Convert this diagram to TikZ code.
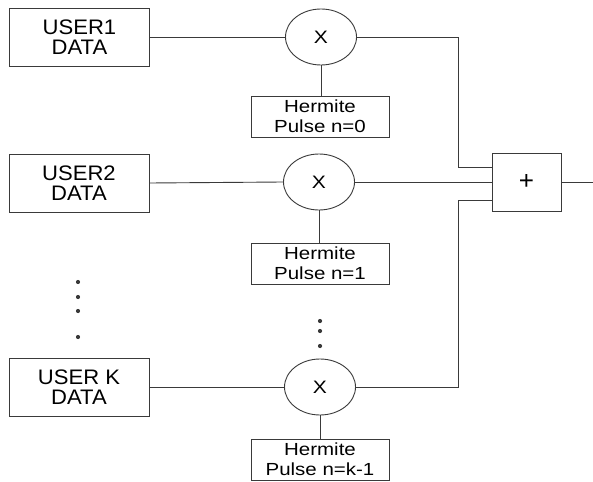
\documentclass[tikz,border=0pt]{standalone}
\usepackage{fontspec}
\setmainfont{Liberation Sans}
\newfontfamily\userfont[FakeStretch=1.05]{Liberation Sans}
\newfontfamily\hermfont[FakeStretch=1.17]{Liberation Sans}
\usetikzlibrary{shapes.geometric}
\definecolor{ln}{HTML}{3A3A3A}
\begin{document}
\begin{tikzpicture}[x=1pt,y=-1pt,
  line width=0.9pt,
  userbox/.style={draw=ln,rectangle,minimum width=140pt,minimum height=58pt,inner sep=0pt,align=center,font=\userfont\fontsize{21}{19.5}\selectfont},
  hermbox/.style={draw=ln,rectangle,minimum width=138pt,minimum height=41pt,inner sep=0pt,align=center,font=\hermfont\fontsize{17.5}{19.6}\selectfont},
  mult/.style={draw=ln,ellipse,minimum width=71pt,minimum height=56pt,inner sep=0pt,font=\hermfont\fontsize{18}{18}\selectfont},
  sumbox/.style={draw=ln,rectangle,minimum width=69pt,minimum height=58pt,inner sep=0pt,font=\fontsize{26}{26}\selectfont},
  wire/.style={draw=ln,line width=0.9pt},
  dotm/.style={fill=ln,circle,inner sep=0pt,minimum size=4.2pt}]
\useasboundingbox (0,0) rectangle (593,481);
% user boxes
\node[userbox] (u1) at (79.5,37) {USER1\\DATA};
\node[userbox] (u2) at (79,183) {USER2\\DATA};
\node[userbox] (uk) at (79,387) {USER K\\DATA};
% multipliers
\node[mult] (m1) at (321,37) {X};
\node[mult] (m2) at (319,182) {X};
\node[mult] (mk) at (320,387) {X};
% hermite pulses
\node[hermbox] (h1) at (320,116.5) {Hermite\\Pulse n=0};
\node[hermbox] (h2) at (320,263.5) {Hermite\\Pulse n=1};
\node[hermbox] (hk) at (320,459.5) {Hermite\\Pulse n=k-1};
% summer
\node[sumbox] (sum) at (526.5,182) {+};
\coordinate (out) at (593,182);
\coordinate (j1) at (458,167);
\coordinate (jk) at (458,200);
% dots
\node[dotm] (d1) at (78,282) {};
\node[dotm] (d2) at (78,297) {};
\node[dotm] (d3) at (78,311) {};
\node[dotm] (d4) at (78,337) {};
\node[dotm] (e1) at (320,321) {};
\node[dotm] (e2) at (320,331) {};
\node[dotm] (e3) at (320,346) {};
% wires
\draw[wire] (u1.east) -- (m1.west);
\draw[wire] (u2.east) -- (m2.west);
\draw[wire] (uk.east) -- (mk.west);
\draw[wire] (m1.south) -- (m1.south |- h1.north);
\draw[wire] (m2.south) -- (m2.south |- h2.north);
\draw[wire] (mk.south) -- (mk.south |- hk.north);
\draw[wire] (m1.east) -| (j1) -- (j1 -| sum.west);
\draw[wire] (m2.east) -- (m2.east -| sum.west);
\draw[wire] (mk.east) -| (jk) -- (jk -| sum.west);
\draw[wire] (sum.east) -- (out);
\end{tikzpicture}
\end{document}
